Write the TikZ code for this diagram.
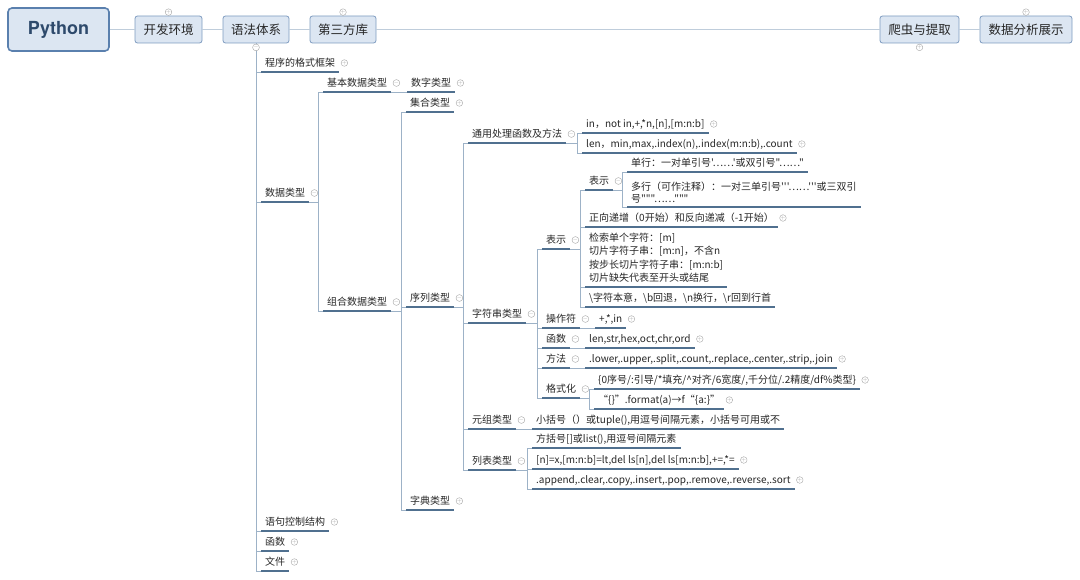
\documentclass[tikz,border=0pt]{standalone}
\usepackage{fontspec}
\newfontfamily\zh{Noto Sans CJK SC}
\newfontfamily\pyfont{TeX Gyre Heros}
\definecolor{boxfill}{HTML}{DCE6F2}
\definecolor{boxline}{HTML}{7D9BBF}
\definecolor{rootline}{HTML}{5A80AE}
\definecolor{pytext}{HTML}{2E4A6C}
\definecolor{barline}{HTML}{BFCDDB}
\definecolor{ulcol}{HTML}{50708F}
\definecolor{conncol}{HTML}{9DB2C7}
\definecolor{foldcol}{HTML}{A5A5A5}

\begin{document}
\begin{tikzpicture}[x=1pt,y=-1pt,
  root/.style={draw=rootline,line width=1.6pt,rounded corners=4pt,fill=boxfill,
    minimum width=101pt,minimum height=43pt,text=pytext,
    font=\pyfont\bfseries\fontsize{18}{21}\selectfont},
  topic/.style={draw=boxline,line width=0.8pt,rounded corners=2.5pt,fill=boxfill,
    minimum height=27pt,inner xsep=0pt,text=black!85,
    font=\zh\fontsize{12.5}{15}\selectfont},
  leaf/.style={anchor=south west,inner xsep=4pt,inner ysep=5pt,text depth=0pt,
    text=black!85,font=\zh\fontsize{10}{12}\selectfont,
    append after command={(\tikzlastnode.south west) edge[uline] (\tikzlastnode.south east)}},
  multiline/.style={align=left,text depth={},inner ysep=4pt},
  uline/.style={draw=ulcol,line width=1.2pt},
  conn/.style={draw=conncol,line width=0.7pt},
  bar/.style={draw=barline,line width=1pt},
  fold/.style={circle,draw=foldcol,fill=white,line width=0.4pt,minimum size=5pt,
    inner sep=0pt,text=foldcol,font=\fontsize{5}{5}\selectfont}]
\useasboundingbox (0,0) rectangle (1080,580);
% Main topics along the top
\node[root] (py) at (58.5,29.5) {Python};
\node[topic,minimum width=67pt] (dev) at (168.5,29.5) {开发环境};
\node[topic,minimum width=66pt] (syn) at (256,29.5) {语法体系};
\node[topic,minimum width=66pt] (lib) at (343,29.5) {第三方库};
\node[topic,minimum width=79pt] (crawl) at (919.5,29.5) {爬虫与提取};
\node[topic,minimum width=92pt] (show) at (1026,29.5) {数据分析展示};
\draw[bar] (py) -- (dev) (dev) -- (syn) (syn) -- (lib) (lib) -- (crawl) (crawl) -- (show);
% Syntax branch
\node[leaf] (fmt) at (261,72) {程序的格式框架};
\node[leaf] (dtype) at (261,202) {数据类型};
\node[leaf] (ctrl) at (261,531) {语句控制结构};
\node[leaf] (func) at (261,551) {函数};
\node[leaf] (file) at (261,571) {文件};
% Data types
\node[leaf] (basic) at (323,92) {基本数据类型};
\node[leaf] (combo) at (323,311) {组合数据类型};
\node[leaf] (num) at (407,92) {数字类型};
\node[leaf] (set) at (406,112) {集合类型};
\node[leaf] (seq) at (406,307) {序列类型};
\node[leaf] (dict) at (406,510) {字典类型};
% Sequence types
\node[leaf] (gen) at (468,143) {通用处理函数及方法};
\node[leaf] (str) at (468,323) {字符串类型};
\node[leaf] (tup) at (468,429) {元组类型};
\node[leaf] (lst) at (468,470) {列表类型};
\node[leaf] (gen1) at (582,133) {in，not in,+,*n,[n],[m:n:b]};
\node[leaf] (gen2) at (582,153) {len，min,max,.index(n),.index(m:n:b),.count};
% String type
\node[leaf] (rep) at (542,249) {表示};
\node[leaf] (op) at (542,328) {操作符};
\node[leaf] (fn) at (542,348) {函数};
\node[leaf] (mth) at (542,368) {方法};
\node[leaf] (fmtz) at (542,398) {格式化};
\node[leaf] (rep2) at (585,190) {表示};
\node[leaf] (idx) at (585,227) {正向递增（0开始）和反向递减（-1开始）};
\node[leaf,multiline,font=\zh\fontsize{10}{13.5}\selectfont] (slc) at (585,287)
  {检索单个字符：[m]\\切片字符子串：[m:n]，不含n\\按步长切片字符子串：[m:n:b]\\切片缺失代表至开头或结尾};
\node[leaf] (esc) at (585,307) {\textbackslash 字符本意，\textbackslash b回退，\textbackslash n换行，\textbackslash r回到行首};
\node[leaf] (one) at (627,172) {单行：一对单引号'……'或双引号"……"};
\node[leaf,multiline] (multi) at (627,207) {多行（可作注释）：一对三单引号'''……'''或三双引\\号"""……"""};
\node[leaf] (opv) at (595,328) {+,*,in};
\node[leaf] (fnv) at (585,348) {len,str,hex,oct,chr,ord};
\node[leaf] (mthv) at (585,368) {.lower,.upper,.split,.count,.replace,.center,.strip,.join};
\node[leaf] (fmt1) at (594,389) {\{0序号/:引导/*填充/\textasciicircum 对齐/6宽度/,千分位/.2精度/df\%类型\}};
\node[leaf] (fmt2) at (594,409) {“\{\}”.format(a)→f“\{a:\}”};
% Tuple and list types
\node[leaf] (tupv) at (532,429) {小括号（）或tuple(),用逗号间隔元素，小括号可用或不};
\node[leaf] (lst1) at (532,448) {方括号[]或list(),用逗号间隔元素};
\node[leaf] (lst2) at (532,469) {[n]=x,[m:n:b]=lt,del ls[n],del ls[m:n:b],+=,*=};
\node[leaf] (lst3) at (532,489) {.append,.clear,.copy,.insert,.pop,.remove,.reverse,.sort};
% Connectors
\foreach \c in {fmt,dtype,ctrl,func,file}
  \draw[conn] (syn.south) |- (\c.south west);
\foreach \c in {basic,combo}
  \draw[conn] (dtype.south east) -| ([xshift=-5pt]\c.south west) -- (\c.south west);
\foreach \c in {set,seq,dict}
  \draw[conn] (combo.south east) -| ([xshift=-5pt]\c.south west) -- (\c.south west);
\foreach \c in {gen,str,tup,lst}
  \draw[conn] (seq.south east) -| ([xshift=-5pt]\c.south west) -- (\c.south west);
\foreach \c in {gen1,gen2}
  \draw[conn] (gen.south east) -| ([xshift=-5pt]\c.south west) -- (\c.south west);
\foreach \c in {rep,op,fn,mth,fmtz}
  \draw[conn] (str.south east) -| ([xshift=-5pt]\c.south west) -- (\c.south west);
\foreach \c in {rep2,idx,slc,esc}
  \draw[conn] (rep.south east) -| ([xshift=-5pt]\c.south west) -- (\c.south west);
\foreach \c in {one,multi}
  \draw[conn] (rep2.south east) -| ([xshift=-5pt]\c.south west) -- (\c.south west);
\foreach \c in {fmt1,fmt2}
  \draw[conn] (fmtz.south east) -| ([xshift=-5pt]\c.south west) -- (\c.south west);
\foreach \c in {lst1,lst2,lst3}
  \draw[conn] (lst.south east) -| ([xshift=-5pt]\c.south west) -- (\c.south west);
\draw[conn] (basic.south east) -- (num.south west);
\draw[conn] (op.south east) -- (opv.south west);
\draw[conn] (fn.south east) -- (fnv.south west);
\draw[conn] (mth.south east) -- (mthv.south west);
\draw[conn] (tup.south east) -- (tupv.south west);
% Fold markers
\node[fold] (dev-f) at ([yshift=3.5pt]dev.north) {$+$};
\node[fold] (lib-f) at ([yshift=3.5pt]lib.north) {$+$};
\node[fold] (syn-f) at ([yshift=-4pt]syn.south) {$-$};
\node[fold] (crawl-f) at ([yshift=-4pt]crawl.south) {$+$};
\node[fold] (show-f) at ([yshift=3.5pt]show.north) {$+$};
\foreach \n in {fmt,num,set,dict,ctrl,func,file,gen1,gen2,idx,opv,fnv,mthv,fmt1,fmt2,lst2,lst3}
  \node[fold] (\n-f) at ([shift={(5pt,9pt)}]\n.south east) {$+$};
\foreach \n in {dtype,basic,combo,seq,gen,str,rep,rep2,op,fn,mth,fmtz,tup,lst}
  \node[fold] (\n-f) at ([shift={(5pt,9pt)}]\n.south east) {$-$};
\end{tikzpicture}
\end{document}
